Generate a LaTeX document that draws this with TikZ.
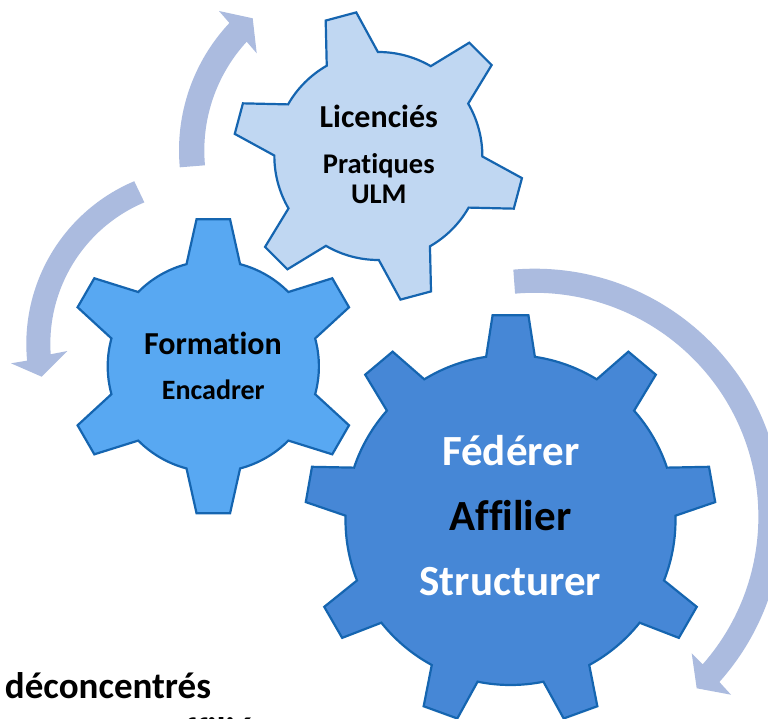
\documentclass[tikz,border=0pt]{standalone}
\usepackage{fontspec}
\setmainfont[RawFeature={-liga;-dlig;-clig}]{Carlito}
\definecolor{arrowblue}{HTML}{ABBBDF}
\definecolor{gearline}{HTML}{1565B0}
\definecolor{gearlight}{HTML}{C0D7F2}
\definecolor{gearmid}{HTML}{58A8F2}
\definecolor{geardark}{HTML}{4687D6}
\tikzset{
  gearshape/.style={draw=gearline,line width=2.2pt,line join=miter,miter limit=4},
  sweep/.style={fill=arrowblue,draw=none},
  lab/.style={anchor=base,inner sep=0pt,outer sep=0pt,font=\bfseries},
}
% centre x, centre y (down), root r, tip R, teeth, phase, root half angle, tip half angle, fill
\newcommand{\gearwheel}[9]{%
  \path[gearshape,fill=#9] ({#1},{-(#2)}) ++({#6-#7}:#3)
    \foreach \i [evaluate=\i as \t using {#6+\i*360/#5}] in {1,...,#5} {
      -- ({#1+#4*cos(\t-360/#5-#8)},{-(#2)+#4*sin(\t-360/#5-#8)})
      -- ({#1+#4*cos(\t-360/#5+#8)},{-(#2)+#4*sin(\t-360/#5+#8)})
      -- ({#1+#3*cos(\t-360/#5+#7)},{-(#2)+#3*sin(\t-360/#5+#7)})
      arc[start angle={\t-360/#5+#7},end angle={\t-#7},radius=#3]
    } -- cycle;}
\begin{document}
\begin{tikzpicture}[x=1pt,y=1pt]
\useasboundingbox (0,-719) rectangle (768,0);
\clip (0,-719) rectangle (768,0);
\fill[white] (0,-719) rectangle (768,0);
% sweep arrows
\path[sweep] (534.5,-516.7) ++(94.9:248) arc[start angle=94.9,end angle=-41.8,radius=248]
  -- (731,-694.7) -- (696.7,-688.3) -- (691.7,-653.3) -- (702.7,-664.3)
  arc[start angle=-41.3,end angle=95,radius=223.8] -- cycle;
\path[sweep] (203,-344) ++(112.9:176.7) arc[start angle=112.9,end angle=185.4,radius=176.7]
  -- (11,-363.3) -- (41.7,-376.7) -- (67.3,-351) -- (50.7,-354.3)
  arc[start angle=183.9,end angle=112.8,radius=153.5] -- cycle;
\path[sweep] (365,-150.3) ++(185.25:186) arc[start angle=185.25,end angle=136.8,radius=186]
  -- (219,-11) -- (252.7,-18.3) -- (256.7,-53.3) -- (246.7,-41.7)
  arc[start angle=137.45,end angle=185.25,radius=161] -- cycle;
% gears
\gearwheel{378.35}{156}{104}{145.3}{6}{105}{14.75}{6.25}{gearlight}
\gearwheel{213.3}{366.3}{105.6}{148}{6}{90}{14.7}{6.5}{gearmid}
\gearwheel{510.5}{520}{165}{205.5}{9}{90}{8.5}{5}{geardark}
% labels
\node[lab,font=\fontsize{32}{34}\selectfont\bfseries] (licencies) at (378.8,-128) {Licenciés};
\node[lab,font=\fontsize{28.5}{30}\selectfont\bfseries] (pratiques) at (378.8,-174) {Pratiques};
\node[lab,font=\fontsize{28.5}{30}\selectfont\bfseries] (ulm) at (378.8,-204) {ULM};
\node[lab,font=\fontsize{32}{34}\selectfont\bfseries] (formation) at (212.9,-354) {Formation};
\node[lab,font=\fontsize{28}{30}\selectfont\bfseries] (encadrer) at (213.3,-399.5) {Encadrer};
\node[lab,text=white,font=\fontsize{43}{45}\selectfont\bfseries] (federer) at (510.8,-465.3) {Fédérer};
\node[lab,font=\fontsize{43}{45}\selectfont\bfseries] (affilier) at (510.5,-530) {Affilier};
\node[lab,text=white,font=\fontsize{43}{45}\selectfont\bfseries] (structurer) at (510.3,-595) {Structurer};
\node[lab,anchor=base west,font=\fontsize{37}{39}\selectfont\bfseries] (deconcentres) at (5,-698) {déconcentrés};
\node[lab,anchor=base west,font=\fontsize{37}{39}\selectfont\bfseries] (affilies) at (166,-743.5) {affiliés};
\end{tikzpicture}
\end{document}
